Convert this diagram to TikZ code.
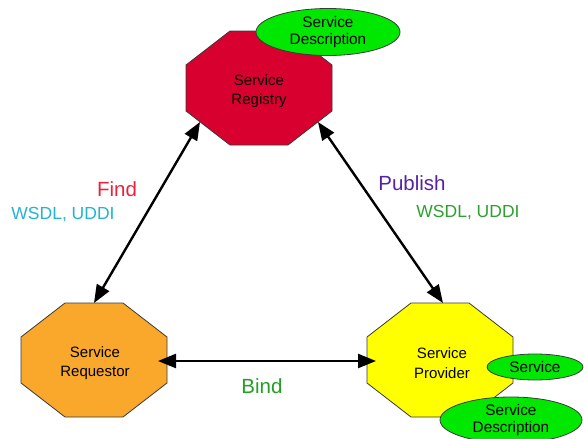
\documentclass[tikz,border=0pt]{standalone}
\usepackage{fontspec}
\setmainfont{Liberation Sans}
\usetikzlibrary{shapes.geometric,arrows.meta}

\definecolor{regred}{HTML}{D8002E}
\definecolor{reqorange}{HTML}{F9A82C}
\definecolor{provyellow}{HTML}{FFFF00}
\definecolor{descgreen}{HTML}{00E800}
\definecolor{edgegray}{HTML}{3A3A3A}
\definecolor{findred}{HTML}{E8243C}
\definecolor{pubpurple}{HTML}{5522A8}
\definecolor{wsdlcyan}{HTML}{22B4D0}
\definecolor{wsdlgreen}{HTML}{2EA02E}
\definecolor{bindgreen}{HTML}{22A022}

\tikzset{
  pics/octo/.style={code={
    \path[draw=edgegray, line width=0.8pt, fill=#1]
      (-73,-23) -- (-73,23) -- (-29,57) -- (29,57) -- (73,23)
      -- (73,-23) -- (29,-57) -- (-29,-57) -- cycle;
  }},
  roletext/.style={align=center, inner sep=0pt, font=\fontsize{15}{19.5}\selectfont},
  desc/.style={ellipse, draw=edgegray, line width=0.8pt, fill=descgreen,
    inner sep=0pt, align=center, font=\fontsize{15.3}{16.5}\selectfont},
  conn/.style={line width=2.4pt, {Triangle[length=18pt,width=14pt]}-{Triangle[length=18pt,width=14pt]}},
  tag/.style={inner sep=0pt, font=\fontsize{20.5}{24}\selectfont},
  subtag/.style={inner sep=0pt, font=\fontsize{17.5}{20}\selectfont},
}

\begin{document}
\begin{tikzpicture}[x=1pt, y=-1pt]
  \clip (0,0) rectangle (584,439);
  \fill[white] (0,0) rectangle (584,439);

  % the three roles
  \pic at (259,88) {octo=regred};
  \pic at (94,360) {octo=reqorange};
  \pic at (440,360) {octo=provyellow};

  \node[roletext] (registry) at (259,91) {Service\\Registry};
  \node[roletext] (requestor) at (95,363) {Service\\Requestor};
  \node[roletext] (provider) at (442,363) {Service\\Provider};

  % descriptions attached to registry and provider
  \node[desc, minimum width=144pt, minimum height=47pt] (regdesc) at (328,32) {Service\\Description};
  \node[desc, minimum width=96pt, minimum height=26pt] (provsvc) at (535,367) {Service};
  \node[desc, minimum width=142pt, minimum height=46pt] (provdesc) at (511,420) {Service\\Description};

  % connector end points on the octagon outlines
  \coordinate (reg-sw) at (200,122);
  \coordinate (reg-se) at (318,122);
  \coordinate (req-n) at (94,303);
  \coordinate (req-e) at (158,361);
  \coordinate (prov-n) at (443,303);
  \coordinate (prov-w) at (376,361);

  \draw[conn] (reg-sw) -- (req-n);
  \draw[conn] (reg-se) -- (prov-n);
  \draw[conn] (req-e) -- (prov-w);

  % interaction labels
  \node[tag, text=findred] (find) at (117,189) {Find};
  \node[subtag, text=wsdlcyan] (findproto) at (63,215) {WSDL, UDDI};
  \node[tag, text=pubpurple] (publish) at (412,183) {Publish};
  \node[subtag, text=wsdlgreen] (pubproto) at (468,213) {WSDL, UDDI};
  \node[tag, text=bindgreen] (bind) at (262,386) {Bind};
\end{tikzpicture}
\end{document}
